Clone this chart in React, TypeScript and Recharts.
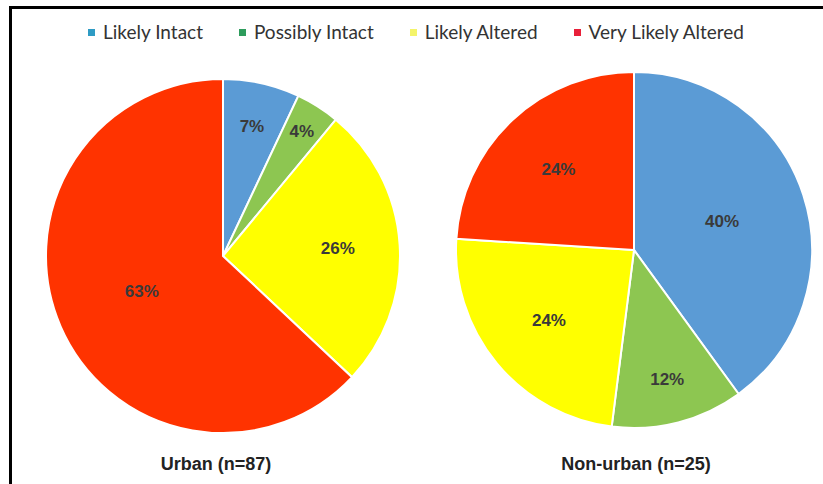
import React from 'react';
import { PieChart, Pie, Cell } from 'recharts';

const categories = ['Likely Intact', 'Possibly Intact', 'Likely Altered', 'Very Likely Altered'];
const urbanValues = [7, 4, 26, 63];
const nonUrbanValues = [40, 12, 24, 24];
const groupTitles = ['Urban (n=87)', 'Non-urban (n=25)'];

const sliceColors = ['#5B9BD5', '#8DC651', '#FFFF00', '#FF3300'];
const legendColors = ['#2E9BC4', '#2E9C5C', '#F4F46A', '#E8203A'];

// how far out each percent label sits, as a share of the radius
const urbanLabelPos = [0.75, 0.83, 0.65, 0.5];
const nonUrbanLabelPos = [0.52, 0.75, 0.62, 0.62];

const urbanData = categories.map((name, i) => ({ name, value: urbanValues[i] }));
const nonUrbanData = categories.map((name, i) => ({ name, value: nonUrbanValues[i] }));

const RADIAN = Math.PI / 180;

const makeLabel = (factors: number[]) => (props: any) => {
  const { cx, cy, midAngle, outerRadius, index, value } = props;
  const r = outerRadius * factors[index];
  const x = cx + r * Math.cos(-midAngle * RADIAN);
  const y = cy + r * Math.sin(-midAngle * RADIAN);
  return (
    <text
      x={x}
      y={y}
      fill="#3a3a3a"
      textAnchor="middle"
      dominantBaseline="central"
      fontFamily="'Liberation Sans', Arial, sans-serif"
      fontWeight="bold"
      fontSize={17}
    >
      {`${value}%`}
    </text>
  );
};

const titleStyle: React.CSSProperties = {
  position: 'absolute',
  top: 454,
  width: 200,
  textAlign: 'center',
  fontFamily: "'Liberation Sans Narrow', 'Liberation Sans', Arial, sans-serif",
  fontWeight: 'bold',
  fontSize: 18,
  color: '#222',
};

export default function App() {
  return (
    <div style={{ position: 'absolute', left: 0, top: 0, width: 823, height: 484, background: '#fff', overflow: 'hidden' }}>
      <div
        style={{
          position: 'absolute',
          left: 9,
          top: 6,
          width: 840,
          height: 500,
          border: '3px solid #000',
        }}
      />
      <PieChart
        width={823}
        height={484}
        margin={{ top: 0, right: 0, bottom: 0, left: 0 }}
        style={{ position: 'absolute', left: 0, top: 0 }}
      >
        <Pie
          data={urbanData}
          dataKey="value"
          cx={223}
          cy={256}
          outerRadius={177}
          startAngle={90}
          endAngle={-270}
          stroke="#fff"
          strokeWidth={2}
          labelLine={false}
          label={makeLabel(urbanLabelPos)}
          isAnimationActive={false}
        >
          {urbanData.map((d, i) => (
            <Cell key={d.name} fill={sliceColors[i]} />
          ))}
        </Pie>
        <Pie
          data={nonUrbanData}
          dataKey="value"
          cx={634}
          cy={250}
          outerRadius={178}
          startAngle={90}
          endAngle={-270}
          stroke="#fff"
          strokeWidth={2}
          labelLine={false}
          label={makeLabel(nonUrbanLabelPos)}
          isAnimationActive={false}
        >
          {nonUrbanData.map((d, i) => (
            <Cell key={d.name} fill={sliceColors[i]} />
          ))}
        </Pie>
      </PieChart>
      <div
        style={{
          position: 'absolute',
          left: 0,
          top: 19,
          width: 832,
          display: 'flex',
          justifyContent: 'center',
          gap: 36,
          fontFamily: 'Lato, sans-serif',
          fontSize: 19,
          lineHeight: '26px',
          color: '#333',
        }}
      >
        {categories.map((c, i) => (
          <div key={c} style={{ display: 'flex', alignItems: 'center' }}>
            <span style={{ width: 7, height: 7, background: legendColors[i], marginRight: 8, display: 'inline-block' }} />
            <span>{c}</span>
          </div>
        ))}
      </div>
      <div style={{ ...titleStyle, left: 116 }}>{groupTitles[0]}</div>
      <div style={{ ...titleStyle, left: 536 }}>{groupTitles[1]}</div>
    </div>
  );
}
